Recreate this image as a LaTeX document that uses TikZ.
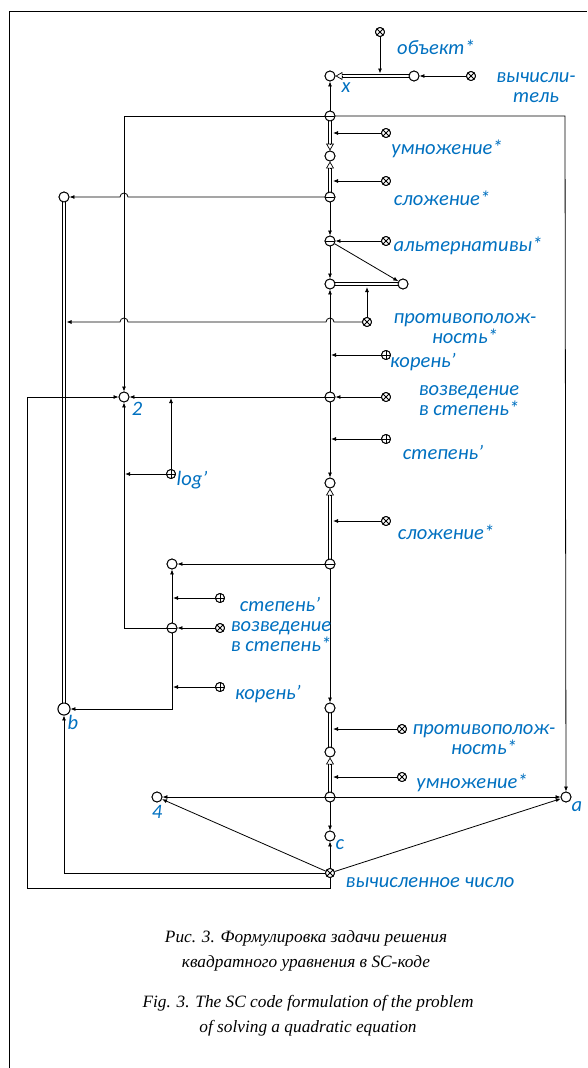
\documentclass[tikz,border=0pt]{standalone}
\usepackage{fontspec}
\setmainfont{Liberation Serif}
\newfontfamily\labfont{Carlito}
\usetikzlibrary{arrows.meta,calc}
\definecolor{lblue}{RGB}{0,112,192}
\begin{document}
\begin{tikzpicture}[x=1pt,y=-1pt,
  ln/.style={line width=0.8pt},
  ar/.style={ln,-{Latex[length=5pt,width=4pt]}},
  dbl/.style={line width=0.7pt,double,double distance=2.6pt},
  dshort/.style={dbl,shorten >=6.5pt},
  dtip/.style={line width=0.7pt,-{Triangle[open,length=7pt,width=8pt]}},
  nd/.style={circle,draw,fill=white,line width=0.9pt,minimum size=10pt,inner sep=0pt},
  bnd/.style={nd,minimum size=12pt},
  tup/.style={nd,path picture={\draw[line width=0.8pt] (path picture bounding box.west)--(path picture bounding box.east);}},
  rel/.style={nd,minimum size=9pt,path picture={\draw[line width=0.8pt] (path picture bounding box.north west)--(path picture bounding box.south east) (path picture bounding box.north east)--(path picture bounding box.south west);}},
  rol/.style={nd,minimum size=9pt,path picture={\draw[line width=0.8pt] (path picture bounding box.north)--(path picture bounding box.south) (path picture bounding box.west)--(path picture bounding box.east);}},
  lab/.style={text=lblue,font=\labfont\itshape\fontsize{20.5}{20}\selectfont,inner sep=0pt,align=center},
  captext/.style={font=\itshape\fontsize{17.3}{25}\selectfont,align=center,inner sep=0pt}
]
\useasboundingbox (0,0) rectangle (587,1068);
\draw[line width=1pt] (9,1068) -- (9,11) -- (587,11);

% coordinates
\coordinate (cobj) at (380,73.5);
\coordinate (cum1) at (333,133);
\coordinate (csl1) at (333,181);
\coordinate (cpr1) at (367,287);
\coordinate (cbl) at (66.5,322);
\coordinate (ckor1) at (331,355);
\coordinate (cst1) at (331,439);
\coordinate (csl2) at (333,521);
\coordinate (cst2) at (173,598);
\coordinate (ckor2) at (173,687);
\coordinate (clogl) at (125,474);
\coordinate (clogu) at (171,398);
\coordinate (cpr2) at (333,729);
\coordinate (cum2) at (333,777);

% nodes
\node[nd] (x) at (330,76) {};
\node[nd] (tv) at (414,76) {};
\node[rel] (vych) at (471,76) {};
\node[rel] (obj) at (380,32) {};
\node[tup] (t1) at (330,116) {};
\node[nd] (m1) at (330,156) {};
\node[rel] (um1) at (386,133) {};
\node[rel] (sl1) at (386,181) {};
\node[tup] (t2) at (330,197) {};
\node[tup] (al) at (330,241) {};
\node[rel] (alt) at (386,241) {};
\node[nd] (p1) at (330,284) {};
\node[nd] (p2) at (403,284) {};
\node[rel] (pr1) at (367,322) {};
\node[rol] (kor1) at (386,355) {};
\node[tup] (t3) at (330,397) {};
\node[rel] (voz1) at (386,397) {};
\node[rol] (st1) at (386,439) {};
\node[nd] (m2) at (330,483) {};
\node[rel] (sl2) at (386,521) {};
\node[tup] (t4) at (330,564) {};
\node[nd] (L1) at (172,564) {};
\node[rol] (st2) at (220,598) {};
\node[tup] (t5) at (172,628) {};
\node[rel] (voz2) at (220,628) {};
\node[rol] (kor2) at (220,687) {};
\node[nd] (two) at (124,397) {};
\node[rol] (log) at (171,474) {};
\node[nd] (btop) at (64,197) {};
\node[bnd] (b) at (64,709) {};
\node[nd] (m3) at (330,708) {};
\node[nd] (m4) at (330,752) {};
\node[rel] (pr2) at (402,729) {};
\node[rel] (um2) at (402,777) {};
\node[tup] (t6) at (330,797) {};
\node[nd] (four) at (157,797) {};
\node[nd] (a) at (566,797) {};
\node[nd] (c) at (330,836) {};
\node[rel] (res) at (330,873) {};

% connectors
\draw[ar] (vych) -- (tv);
\draw[dshort] (tv) -- (x);
\draw[dtip] ($(x)!12pt!(tv)$) -- (x);
\draw[ar] (obj) -- (cobj);
\draw[ar] (t1) -- (x);
\draw[ar] (t1) -- (124,116) -- (two);
\draw[ar] (t1) -- (565,116) -- (a);
\draw[dshort] (t1) -- (m1);
\draw[dtip] ($(m1)!12pt!(t1)$) -- (m1);
\draw[ar] (um1) -- (cum1);
\draw[dshort] (t2) -- (m1);
\draw[dtip] ($(m1)!12pt!(t2)$) -- (m1);
\draw[ar] (sl1) -- (csl1);
\draw[ar] (t2) -- (128,197) arc[start angle=0,end angle=180,radius=4pt] -- (btop);
\draw[ar] (t2) -- (al);
\draw[ar] (alt) -- (al);
\draw[ar] (al) -- (p1);
\draw[ar] (al) -- (p2);
\draw[dbl] (p1) -- (p2);
\draw[ar] (pr1) -- (cpr1);
\draw[ar] (pr1) -- (334,322) arc[start angle=0,end angle=180,radius=4pt] -- (128,322) arc[start angle=0,end angle=180,radius=4pt] -- (cbl);
\draw[ar] (t3) -- (p1);
\draw[ar] (kor1) -- (ckor1);
\draw[ar] (voz1) -- (t3);
\draw[ar] (t3) -- (two);
\draw[ar] (t3) -- (m2);
\draw[ar] (st1) -- (cst1);
\draw[dshort] (t4) -- (m2);
\draw[dtip] ($(m2)!12pt!(t4)$) -- (m2);
\draw[ar] (sl2) -- (csl2);
\draw[ar] (t4) -- (L1);
\draw[ar] (t4) -- (m3);
\draw[ar] (t5) -- (L1);
\draw[ar] (st2) -- (cst2);
\draw[ar] (voz2) -- (t5);
\draw[ar] (t5) -- (124,628) -- (two);
\draw[ar] (log) -- (clogl);
\draw[ar] (log) -- (clogu);
\draw[ar] (t5) -- (172,709) -- (b);
\draw[ar] (kor2) -- (ckor2);
\draw[dbl] (btop) -- (b);
\draw[dbl] (m3) -- (m4);
\draw[ar] (pr2) -- (cpr2);
\draw[dshort] (t6) -- (m4);
\draw[dtip] ($(m4)!12pt!(t6)$) -- (m4);
\draw[ar] (um2) -- (cum2);
\draw[ar] (t6) -- (a);
\draw[ar] (t6) -- (four);
\draw[ar] (t6) -- (c);
\draw[ar] (res) -- (c);
\draw[ar] (res) -- (four);
\draw[ar] (res) -- (a);
\draw[ar] (res) -- (64,873) -- (b);
\draw[ar] (res) -- (330,888) -- (27,888) -- (27,397) -- (two);

% redraw nodes on top
\foreach \n/\s in {x/nd,tv/nd,vych/rel,obj/rel,t1/tup,m1/nd,um1/rel,sl1/rel,t2/tup,al/tup,alt/rel,p1/nd,p2/nd,pr1/rel,kor1/rol,t3/tup,voz1/rel,st1/rol,m2/nd,sl2/rel,t4/tup,L1/nd,st2/rol,t5/tup,voz2/rel,kor2/rol,two/nd,log/rol,btop/nd,b/bnd,m3/nd,m4/nd,pr2/rel,um2/rel,t6/tup,four/nd,a/nd,c/nd,res/rel}
  {\node[\s] at (\n.center) {};}

% labels
\node[lab] (l1) at (436,47) {объект*};
\node[lab] (l2) at (536,88) {вычисли-\\тель};
\node[lab] (l3) at (346,88) {x};
\node[lab] (l4) at (447,149) {умножение*};
\node[lab] (l5) at (442,198) {сложение*};
\node[lab] (l6) at (468,246) {альтернативы*};
\node[lab] (l7) at (465,329) {противополож-\\ность*};
\node[lab] (l8) at (423,362) {корень’};
\node[lab] (l9) at (469,401) {возведение\\в степень*};
\node[lab] (l10) at (137,409) {2};
\node[lab] (l11) at (192,480) {log’};
\node[lab] (l12) at (443,452) {степень’};
\node[lab] (l13) at (446,532) {сложение*};
\node[lab] (l14) at (280,604) {степень’};
\node[lab] (l15) at (281,637) {возведение\\в степень*};
\node[lab] (l16) at (268,694) {корень’};
\node[lab] (l17) at (73,722) {b};
\node[lab] (l18) at (484,740) {противополож-\\ность*};
\node[lab] (l19) at (472,783) {умножение*};
\node[lab] (l20) at (577,807) {a};
\node[lab] (l21) at (157,812) {4};
\node[lab] (l22) at (340,845) {c};
\node[lab] (l23) at (430,883) {вычисленное число};

\node[captext] (cap1) at (306,951) {Рис. 3. Формулировка задачи решения\\квадратного уравнения в SC-коде};
\node[captext] (cap2) at (308,1016) {Fig. 3. The SC code formulation of the problem\\of solving a quadratic equation};
\end{tikzpicture}
\end{document}
